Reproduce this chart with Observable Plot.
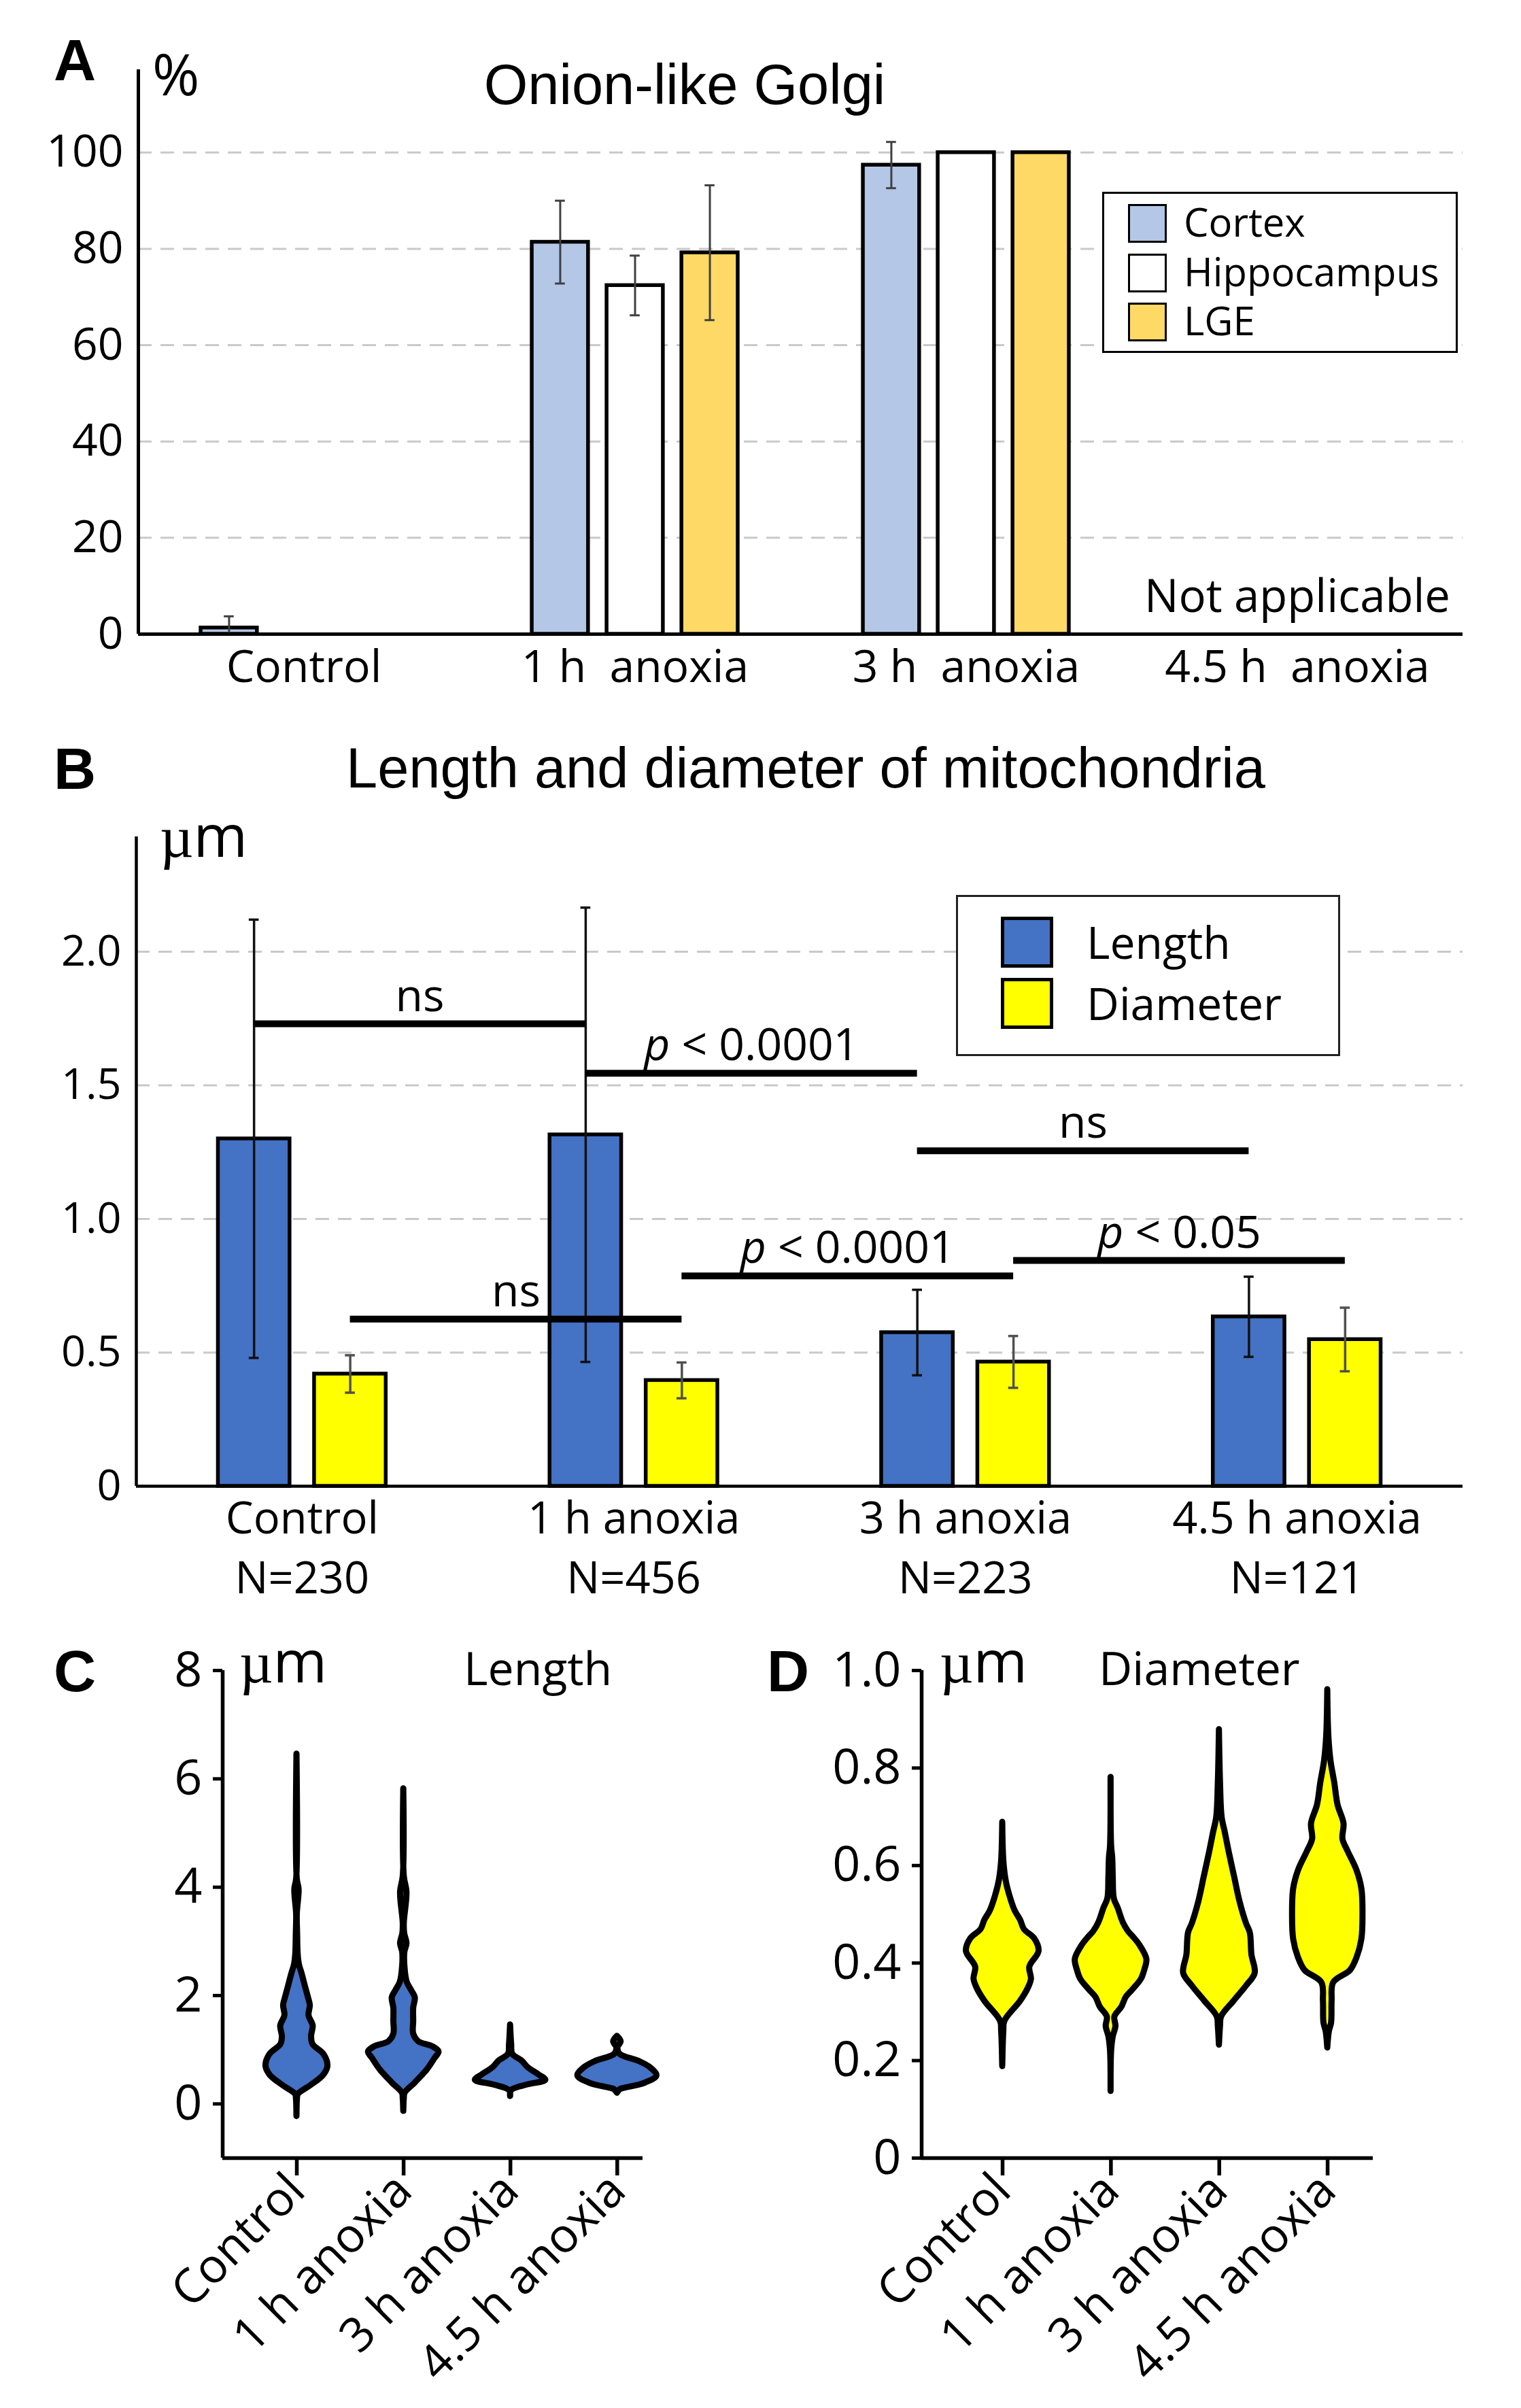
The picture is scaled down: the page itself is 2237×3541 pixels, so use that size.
<!DOCTYPE html>
<html>
<head>
<meta charset="utf-8">
<script src="https://cdn.jsdelivr.net/npm/d3@7"></script>
<script src="https://cdn.jsdelivr.net/npm/@observablehq/plot@0.6"></script>
<style>
html, body { margin: 0; padding: 0; background: #fff; }
#page { position: relative; width: 2237px; height: 3541px; overflow: hidden; background: #fff; }
.lbl { position: absolute; white-space: pre; line-height: 1; color: #000; }
.legend { position: absolute; box-sizing: border-box; background: #fff; }
.sw { position: absolute; box-sizing: border-box; }
</style>
</head>
<body>
<div id="page"></div>
<script>
// ---------------- DATA ----------------
const groups = ["Control", "1 h anoxia", "3 h anoxia", "4.5 h anoxia"];
const groupLabelsA = ["Control", "1 h  anoxia", "3 h  anoxia", "4.5 h  anoxia"];

// Panel A: Onion-like Golgi (%)
const regions = ["Cortex", "Hippocampus", "LGE"];
const regionColors = ["#b4c7e7", "#ffffff", "#ffd966"];
const golgiCortex = [1.3, 81.4, 97.4, null];
const golgiCortexErr = [2.4, 8.6, 4.8, null];
const golgiHippocampus = [null, 72.4, 100, null];
const golgiHippocampusErr = [null, 6.2, 0, null];
const golgiLGE = [null, 79.2, 100, null];
const golgiLGEErr = [null, 14.0, 0, null];
const golgiTicks = [0, 20, 40, 60, 80, 100];
const notApplicableGroup = "4.5 h anoxia";
const notApplicableText = "Not applicable";

// Panel B: length and diameter of mitochondria (µm)
const mitoSeries = ["Length", "Diameter"];
const mitoColors = ["#4472c4", "#ffff00"];
const mitoN = [230, 456, 223, 121];
const lengthMean = [1.30, 1.315, 0.575, 0.634];
const lengthSD = [0.82, 0.85, 0.16, 0.15];
const diameterMean = [0.42, 0.396, 0.465, 0.549];
const diameterSD = [0.07, 0.067, 0.097, 0.119];
const mitoTicks = [0, 0.5, 1.0, 1.5, 2.0];
const comparisonSeries = ["Length", "Length", "Length", "Diameter", "Diameter", "Diameter"];
const comparisonFrom = ["Control", "1 h anoxia", "3 h anoxia", "Control", "1 h anoxia", "3 h anoxia"];
const comparisonTo = ["1 h anoxia", "3 h anoxia", "4.5 h anoxia", "1 h anoxia", "3 h anoxia", "4.5 h anoxia"];
const comparisonLevel = [1.73, 1.545, 1.255, 0.625, 0.787, 0.845];
const comparisonLabel = ["ns", "p < 0.0001", "ns", "ns", "p < 0.0001", "p < 0.05"];

// Panel C: violin profiles of length, [value µm, relative half-width]
const lengthTicks = [0, 2, 4, 6, 8];
const lengthControl = [[-0.23,0],[0.1,0.005],[0.175,0.012],[0.34,0.13],[0.53,0.25],[0.70,0.29],[0.91,0.255],[1.1,0.15],[1.25,0.137],[1.44,0.152],[1.63,0.113],[1.82,0.125],[1.96,0.108],[2.15,0.082],[2.39,0.05],[2.58,0.022],[2.77,0.011],[3.15,0.006],[3.5,0.003],[3.96,0.02],[4.15,0.003],[6.46,0]];
const length1h = [[-0.135,0],[0.1,0.005],[0.2,0.012],[0.39,0.108],[0.63,0.22],[0.84,0.292],[0.96,0.33],[1.06,0.27],[1.15,0.14],[1.29,0.093],[1.53,0.093],[1.77,0.093],[1.96,0.108],[2.10,0.072],[2.25,0.032],[2.53,0.011],[2.8,0.01],[2.96,0.03],[3.15,0.008],[3.34,0.005],[3.91,0.03],[4.2,0.005],[5.82,0]];
const length3h = [[0.14,0],[0.25,0.01],[0.35,0.15],[0.44,0.33],[0.54,0.265],[0.67,0.165],[0.79,0.11],[0.92,0.02],[1.1,0.01],[1.46,0]];
const length45h = [[0.2,0],[0.27,0.03],[0.29,0.065],[0.39,0.265],[0.52,0.37],[0.67,0.31],[0.79,0.2],[0.92,0.025],[1.04,0.005],[1.15,0.035],[1.25,0]];

// Panel D: violin profiles of diameter
const diameterTicks = [0, 0.2, 0.4, 0.6, 0.8, 1.0];
const diameterControl = [[0.188,0],[0.26,0.01],[0.281,0.02],[0.322,0.165],[0.348,0.235],[0.367,0.265],[0.392,0.25],[0.424,0.335],[0.45,0.295],[0.469,0.2],[0.488,0.165],[0.507,0.115],[0.539,0.065],[0.571,0.03],[0.61,0.01],[0.689,0]];
const diameter1h = [[0.137,0],[0.22,0.005],[0.249,0.02],[0.27,0.045],[0.29,0.035],[0.31,0.1],[0.33,0.14],[0.345,0.2],[0.367,0.28],[0.385,0.31],[0.408,0.33],[0.437,0.265],[0.455,0.2],[0.465,0.16],[0.482,0.115],[0.513,0.065],[0.532,0.03],[0.577,0.02],[0.616,0.015],[0.64,0.005],[0.781,0]];
const diameter3h = [[0.232,0],[0.27,0.01],[0.29,0.02],[0.322,0.135],[0.353,0.25],[0.379,0.33],[0.417,0.3],[0.462,0.285],[0.481,0.25],[0.526,0.19],[0.577,0.14],[0.628,0.09],[0.667,0.055],[0.699,0.025],[0.77,0.01],[0.879,0]];
const diameter45h = [[0.226,0],[0.26,0.015],[0.277,0.035],[0.322,0.04],[0.36,0.055],[0.385,0.21],[0.411,0.27],[0.449,0.315],[0.5,0.325],[0.552,0.315],[0.59,0.27],[0.628,0.19],[0.654,0.14],[0.686,0.15],[0.724,0.095],[0.769,0.065],[0.814,0.03],[0.865,0.01],[0.961,0]];

// ---------------- HELPERS ----------------
const page = document.getElementById("page");
const SANS = "'Open Sans', 'DejaVu Sans', sans-serif";
const ARIAL = "'Liberation Sans', Arial, sans-serif";
const MU = "<span style=\"font-family:'Liberation Serif',serif;font-weight:normal\">\u00b5</span>m";
function put(el, left, top) {
  el.style.position = "absolute";
  el.style.left = left + "px";
  el.style.top = top + "px";
  page.appendChild(el);
  return el;
}
function label(html, left, top, size, family, opts = {}) {
  const d = document.createElement("div");
  d.className = "lbl";
  d.innerHTML = html;
  d.style.fontSize = size + "px";
  d.style.fontFamily = family;
  if (opts.weight) d.style.fontWeight = opts.weight;
  if (opts.center) d.style.transform = "translateX(-50%)";
  return put(d, left, top);
}
const gi = g => groups.indexOf(g);
const fmt1 = v => v === 0 ? "0" : v.toFixed(1);

// ---------------- PANEL A ----------------
const golgiValues = [golgiCortex, golgiHippocampus, golgiLGE];
const golgiErrors = [golgiCortexErr, golgiHippocampusErr, golgiLGEErr];
const golgiRows = [];
regions.forEach((r, k) => groups.forEach((g, i) => {
  const v = golgiValues[k][i];
  if (v != null) golgiRows.push({region: r, k, group: g, value: v, err: golgiErrors[k][i]});
}));
const offA = [-0.226, 0, 0.226];
const halfA = 0.085, capA = 0.015;
const cA = d => gi(d.group) + offA[d.k];
const errA = golgiRows.filter(d => d.err > 0);

const svgA = Plot.plot({
  width: 2237, height: 1040,
  marginLeft: 203, marginRight: 86, marginTop: 102, marginBottom: 108,
  x: {domain: [-0.5, 3.5], label: null},
  y: {domain: [0, 117.2], label: null},
  color: {domain: regions, range: regionColors},
  style: {fontFamily: SANS, fontSize: "66px", color: "#000", background: "transparent", overflow: "visible"},
  marks: [
    Plot.ruleY(golgiTicks.filter(t => t > 0), {stroke: "#c9c9c9", strokeWidth: 3, strokeDasharray: "20,13"}),
    Plot.rectY(golgiRows, {x1: d => cA(d) - halfA, x2: d => cA(d) + halfA, y1: 0, y2: "value", fill: "region", stroke: "#000", strokeWidth: 5.5}),
    Plot.ruleX(errA, {x: cA, y1: d => Math.max(0, d.value - d.err), y2: d => d.value + d.err, stroke: "#404040", strokeWidth: 3}),
    Plot.ruleY(errA, {y: d => d.value + d.err, x1: d => cA(d) - capA, x2: d => cA(d) + capA, stroke: "#404040", strokeWidth: 3}),
    Plot.ruleY(errA.filter(d => d.value - d.err > 0), {y: d => d.value - d.err, x1: d => cA(d) - capA, x2: d => cA(d) + capA, stroke: "#404040", strokeWidth: 3}),
    Plot.ruleX([-0.5], {stroke: "#000", strokeWidth: 5}),
    Plot.ruleY([0], {stroke: "#000", strokeWidth: 5}),
    Plot.axisY(golgiTicks, {tickSize: 0, tickPadding: 22, label: null}),
    Plot.axisX([0, 1, 2, 3], {tickSize: 0, tickPadding: 24, tickFormat: i => groupLabelsA[i], label: null}),
    Plot.text([notApplicableText], {x: gi(notApplicableGroup), frameAnchor: "bottom", dy: -33, fontSize: 67})
  ]
});
put(svgA, 0, 0);

label("A", 79, 45, 86, ARIAL, {weight: "bold"});
label("%", 224, 66, 84, SANS);
label("Onion-like Golgi", 1007, 83, 83, ARIAL, {center: true});

// legend A
(function () {
  const box = document.createElement("div");
  box.className = "legend";
  box.style.width = "523px"; box.style.height = "237px";
  box.style.border = "3px solid #000";
  regions.forEach((r, k) => {
    const sw = document.createElement("div");
    sw.className = "sw";
    sw.style.left = "35px"; sw.style.top = (15 + k * 72.5) + "px";
    sw.style.width = "57px"; sw.style.height = "57px";
    sw.style.background = regionColors[k];
    sw.style.border = "3px solid #000";
    box.appendChild(sw);
    const t = document.createElement("div");
    t.className = "lbl";
    t.textContent = r;
    t.style.fontFamily = SANS; t.style.fontSize = "58px";
    t.style.left = "117px"; t.style.top = (12 + k * 72.5) + "px";
    box.appendChild(t);
  });
  put(box, 1621, 282);
})();

// ---------------- PANEL B ----------------
const mitoMeans = [lengthMean, diameterMean];
const mitoSDs = [lengthSD, diameterSD];
const mitoRows = [];
mitoSeries.forEach((s, k) => groups.forEach((g, i) => mitoRows.push({series: s, k, group: g, value: mitoMeans[k][i], err: mitoSDs[k][i]})));
const offB = {Length: -0.145, Diameter: 0.145};
const halfB = 0.108, capB = 0.015;
const cB = d => gi(d.group) + offB[d.series];
const errColors = {Length: "#111", Diameter: "#505050"};
const comparisons = comparisonLabel.map((l, j) => ({
  series: comparisonSeries[j], from: comparisonFrom[j], to: comparisonTo[j], level: comparisonLevel[j], label: l
}));
const bx1 = d => gi(d.from) + offB[d.series];
const bx2 = d => gi(d.to) + offB[d.series];

const svgB = Plot.plot({
  width: 2237, height: 1230,
  marginLeft: 200, marginRight: 86, marginTop: 80, marginBottom: 195,
  x: {domain: [-0.5, 3.5], label: null},
  y: {domain: [0, 2.43], label: null},
  color: {domain: mitoSeries, range: mitoColors},
  style: {fontFamily: SANS, fontSize: "64px", color: "#000", background: "transparent", overflow: "visible"},
  marks: [
    Plot.ruleY(mitoTicks.filter(t => t > 0), {stroke: "#c9c9c9", strokeWidth: 3, strokeDasharray: "20,13"}),
    Plot.rectY(mitoRows, {x1: d => cB(d) - halfB, x2: d => cB(d) + halfB, y1: 0, y2: "value", fill: "series", stroke: "#000", strokeWidth: 5.5}),
    Plot.ruleX(mitoRows, {x: cB, y1: d => d.value - d.err, y2: d => d.value + d.err, stroke: d => errColors[d.series], strokeWidth: 3.5}),
    Plot.ruleY(mitoRows, {y: d => d.value + d.err, x1: d => cB(d) - capB, x2: d => cB(d) + capB, stroke: d => errColors[d.series], strokeWidth: 3.5}),
    Plot.ruleY(mitoRows, {y: d => d.value - d.err, x1: d => cB(d) - capB, x2: d => cB(d) + capB, stroke: d => errColors[d.series], strokeWidth: 3.5}),
    Plot.ruleY(comparisons, {y: "level", x1: bx1, x2: bx2, stroke: "#000", strokeWidth: 10}),
    Plot.text(comparisons, {x: d => (bx1(d) + bx2(d)) / 2, y: "level", text: "label", dy: -40, fontSize: 66}),
    Plot.ruleX([-0.5], {stroke: "#000", strokeWidth: 4.5}),
    Plot.ruleY([0], {stroke: "#000", strokeWidth: 4.5}),
    Plot.axisY(mitoTicks, {tickSize: 0, tickPadding: 22, tickFormat: fmt1, fontSize: 63, label: null}),
    Plot.axisX([0, 1, 2, 3], {tickSize: 0, tickPadding: 23, tickFormat: i => groups[i], fontSize: 65, label: null}),
    Plot.axisX([0, 1, 2, 3], {tickSize: 0, tickPadding: 111, tickFormat: i => "N=" + mitoN[i], fontSize: 65, label: null})
  ]
});
svgB.querySelectorAll("text").forEach(t => {
  const s = t.textContent;
  if (s.startsWith("p <")) {
    while (t.firstChild) t.removeChild(t.firstChild);
    const p = document.createElementNS("http://www.w3.org/2000/svg", "tspan");
    p.setAttribute("font-style", "italic");
    p.textContent = "p";
    t.appendChild(p);
    t.appendChild(document.createTextNode(s.slice(1)));
  }
});
put(svgB, 0, 1150);

label("B", 79, 1087, 86, ARIAL, {weight: "bold"});
label("Length and diameter of mitochondria", 1185, 1088, 83, ARIAL, {center: true});
label(MU, 235, 1184, 86, SANS);

// legend B
(function () {
  const box = document.createElement("div");
  box.className = "legend";
  box.style.width = "565px"; box.style.height = "237px";
  box.style.border = "3px solid #222";
  mitoSeries.forEach((s, k) => {
    const sw = document.createElement("div");
    sw.className = "sw";
    sw.style.left = "63px"; sw.style.top = (29 + k * 90) + "px";
    sw.style.width = "77px"; sw.style.height = "75px";
    sw.style.background = mitoColors[k];
    sw.style.border = "5px solid #000";
    box.appendChild(sw);
    const t = document.createElement("div");
    t.className = "lbl";
    t.textContent = s;
    t.style.fontFamily = SANS; t.style.fontSize = "66px";
    t.style.left = "189px"; t.style.top = (32 + k * 90) + "px";
    box.appendChild(t);
  });
  put(box, 1406, 1316);
})();

// ---------------- PANELS C and D (violins) ----------------
function violinRows(profiles) {
  const rows = [];
  profiles.forEach((prof, i) => prof.forEach(([v, w]) => rows.push({group: groups[i], i, v, w})));
  return rows;
}
function violinPlot({profiles, fill, yDomain, xDomain, ticks, tickFormat, width, marginLeft, marginRight}) {
  return Plot.plot({
    width, height: 1161,
    marginLeft, marginRight, marginTop: 76, marginBottom: 368,
    x: {domain: xDomain, label: null},
    y: {domain: yDomain, label: null},
    style: {fontFamily: SANS, fontSize: "72px", color: "#000", background: "transparent", overflow: "visible"},
    marks: [
      Plot.areaX(violinRows(profiles), {
        y: "v", x1: d => d.i - d.w, x2: d => d.i + d.w, z: "group",
        fill, stroke: "#000", strokeWidth: 9, strokeLinejoin: "round", curve: "catmull-rom"
      }),
      Plot.ruleX([xDomain[0]], {stroke: "#000", strokeWidth: 5.5}),
      Plot.ruleY([yDomain[0]], {stroke: "#000", strokeWidth: 5.5}),
      Plot.axisY(ticks, {tickSize: 14, tickPadding: 16, strokeWidth: 5, tickFormat, label: null}),
      Plot.axisX([0, 1, 2, 3], {tickSize: 26, tickPadding: 10, strokeWidth: 5.5, tickRotate: -45, fontSize: 70, tickFormat: i => groups[i], label: null})
    ]
  });
}

const svgC = violinPlot({
  profiles: [lengthControl, length1h, length3h, length45h], fill: "#4472c4",
  yDomain: [-1, 8], xDomain: [-0.694, 3.24], ticks: lengthTicks, tickFormat: d => String(d),
  width: 1100, marginLeft: 327, marginRight: 155
});
put(svgC, 0, 2380);
label("C", 79, 2414, 86, ARIAL, {weight: "bold"});
label(MU, 352, 2398, 86, SANS);
label("Length", 682, 2418, 68, SANS);

const svgD = violinPlot({
  profiles: [diameterControl, diameter1h, diameter3h, diameter45h], fill: "#ffff00",
  yDomain: [0, 1], xDomain: [-0.747, 3.42], ticks: diameterTicks, tickFormat: fmt1,
  width: 1117, marginLeft: 235, marginRight: 218
});
put(svgD, 1120, 2380);
label("D", 1128, 2414, 86, ARIAL, {weight: "bold"});
label(MU, 1382, 2398, 86, SANS);
label("Diameter", 1616, 2418, 68, SANS);
</script>
</body>
</html>
